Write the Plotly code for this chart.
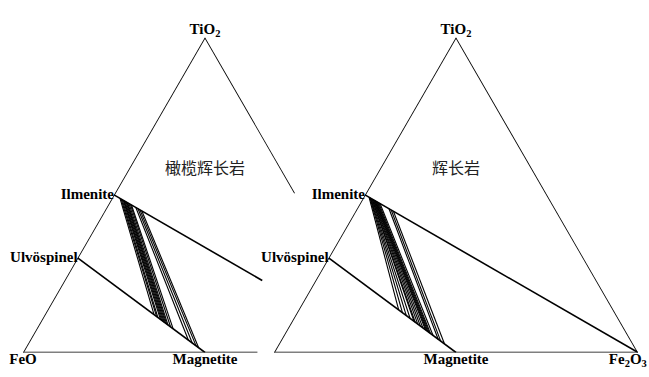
import plotly.graph_objects as go

W, H = 649, 377

# End-member compositions as (TiO2, FeO, Fe2O3) mole fractions
TIO2 = (1.0, 0.0, 0.0)
FEO = (0.0, 1.0, 0.0)
FE2O3 = (0.0, 0.0, 1.0)
ILMENITE = (0.5, 0.5, 0.0)
ULVOSPINEL = (0.30, 0.70, 0.0)
MAGNETITE = (0.0, 0.5, 0.5)

# Coexisting Fe-Ti oxide pairs.
# *_ilm: position of the ilmenite along the Ilm -> Hem join (0 = Ilm)
# *_mt:  position of the titanomagnetite along the Usp -> Mt join (0 = Usp)
olivine_gabbro_ilm = [0.022, 0.026, 0.030, 0.034, 0.037, 0.040, 0.044, 0.047,
                      0.050, 0.055, 0.060, 0.064, 0.080, 0.088, 0.095, 0.102]
olivine_gabbro_mt = [0.60, 0.62, 0.63, 0.65, 0.66, 0.67, 0.68, 0.69,
                     0.70, 0.71, 0.73, 0.75, 0.87, 0.90, 0.93, 0.95]

gabbro_ilm = [0.015, 0.018, 0.020, 0.022, 0.025, 0.027, 0.030, 0.032, 0.035,
              0.037, 0.040, 0.043, 0.046, 0.050, 0.055, 0.088, 0.096, 0.104]
gabbro_mt = [0.55, 0.58, 0.61, 0.64, 0.67, 0.68, 0.70, 0.72, 0.74,
             0.76, 0.77, 0.78, 0.79, 0.80, 0.82, 0.86, 0.88, 0.91]

# Drawn extent (fraction of full length) of the lines in the olivine gabbro panel
olgab_right_edge_extent = 0.494
olgab_base_extent = 0.644
olgab_ilm_hem_extent = 0.543

panel_titles = ["橄榄辉长岩", "辉长岩"]
title_position = (0.58, 0.21, 0.21)


def mix(p, q, f):
    return tuple(pi * (1 - f) + qi * f for pi, qi in zip(p, q))


def segments(pairs):
    a, b, c = [], [], []
    for p, q in pairs:
        for pt in (p, q):
            a.append(pt[0]); b.append(pt[1]); c.append(pt[2])
        a.append(None); b.append(None); c.append(None)
    return a, b, c


def line_trace(pairs, subplot, width):
    a, b, c = segments(pairs)
    return go.Scatterternary(a=a, b=b, c=c, mode="lines", subplot=subplot,
                             line=dict(color="black", width=width),
                             cliponaxis=False, hoverinfo="skip", showlegend=False)


def tie_pairs(ilm_pos, mt_pos):
    return [(mix(ILMENITE, FE2O3, t), mix(ULVOSPINEL, MAGNETITE, s))
            for t, s in zip(ilm_pos, mt_pos)]


SERIF = "Liberation Serif"
CJK = "Noto Sans CJK SC"
LABEL_SIZE = 15


def label_trace(points, texts, positions, subplot, family=SERIF, size=LABEL_SIZE, color="black"):
    return go.Scatterternary(
        a=[p[0] for p in points], b=[p[1] for p in points], c=[p[2] for p in points],
        text=texts, mode="text", textposition=positions, subplot=subplot,
        textfont=dict(family=family, size=size, color=color),
        cliponaxis=False, hoverinfo="skip", showlegend=False)


fig = go.Figure()

# ---- Olivine gabbro panel (partly drawn on the right) ----
frame_left = [
    (FEO, TIO2),
    (TIO2, mix(TIO2, FE2O3, olgab_right_edge_extent)),
    (FEO, mix(FEO, FE2O3, olgab_base_extent)),
    (ILMENITE, mix(ILMENITE, FE2O3, olgab_ilm_hem_extent)),
    (ULVOSPINEL, MAGNETITE),
]
fig.add_trace(line_trace(frame_left, "ternary", 1.6))
fig.add_trace(line_trace(tie_pairs(olivine_gabbro_ilm, olivine_gabbro_mt), "ternary", 1.1))
fig.add_trace(label_trace(
    [TIO2, FEO, ILMENITE, ULVOSPINEL, MAGNETITE],
    ["<b>TiO<sub>2</sub></b>", "<b>FeO</b>", "<b>Ilmenite</b>", "<b>Ulvöspinel</b>", "<b>Magnetite</b>"],
    ["top center", "bottom center", "middle left", "middle left", "bottom center"],
    "ternary"))
fig.add_trace(label_trace([title_position], [panel_titles[0]], ["middle center"],
                          "ternary", family=CJK, size=16, color="#222"))

# ---- Gabbro panel ----
frame_right = [
    (FEO, TIO2), (TIO2, FE2O3), (FEO, FE2O3),
    (ILMENITE, FE2O3), (ULVOSPINEL, MAGNETITE),
]
fig.add_trace(line_trace(frame_right, "ternary2", 1.6))
fig.add_trace(line_trace(tie_pairs(gabbro_ilm, gabbro_mt), "ternary2", 1.1))
# the Fe2O3 label sits a little inside the corner so it stays on the page
fe2o3_label_at = mix(FE2O3, FEO, 0.028)
fig.add_trace(label_trace(
    [TIO2, fe2o3_label_at, ILMENITE, ULVOSPINEL, MAGNETITE],
    ["<b>TiO<sub>2</sub></b>", "<b>Fe<sub>2</sub>O<sub>3</sub></b>", "<b>Ilmenite</b>",
     "<b>Ulvöspinel</b>", "<b>Magnetite</b>"],
    ["top center", "bottom center", "middle left", "middle left", "bottom center"],
    "ternary2"))
fig.add_trace(label_trace([title_position], [panel_titles[1]], ["middle center"],
                          "ternary2", family=CJK, size=16, color="#222"))

# Triangle geometry in pixels -> subplot domains
SIDE = 364.0
TRI_H = SIDE * 3 ** 0.5 / 2
BASE_Y = 352.5


def domain(center_x):
    x0 = (center_x - SIDE / 2) / W
    x1 = (center_x + SIDE / 2) / W
    y0 = (H - BASE_Y) / H
    y1 = (H - BASE_Y + TRI_H) / H
    return dict(x=[x0, x1], y=[y0, y1])


hidden_axis = dict(showline=False, showgrid=False, showticklabels=False,
                   ticks="", title=dict(text=""))
tern_common = dict(sum=1, bgcolor="rgba(0,0,0,0)",
                   aaxis=hidden_axis, baxis=hidden_axis, caxis=hidden_axis)

fig.update_layout(
    width=W, height=H,
    margin=dict(l=0, r=0, t=0, b=0),
    paper_bgcolor="white", plot_bgcolor="white",
    ternary=dict(domain=domain(205.0), **tern_common),
    ternary2=dict(domain=domain(456.0), **tern_common),
    showlegend=False,
)

fig.write_html("out.html")
